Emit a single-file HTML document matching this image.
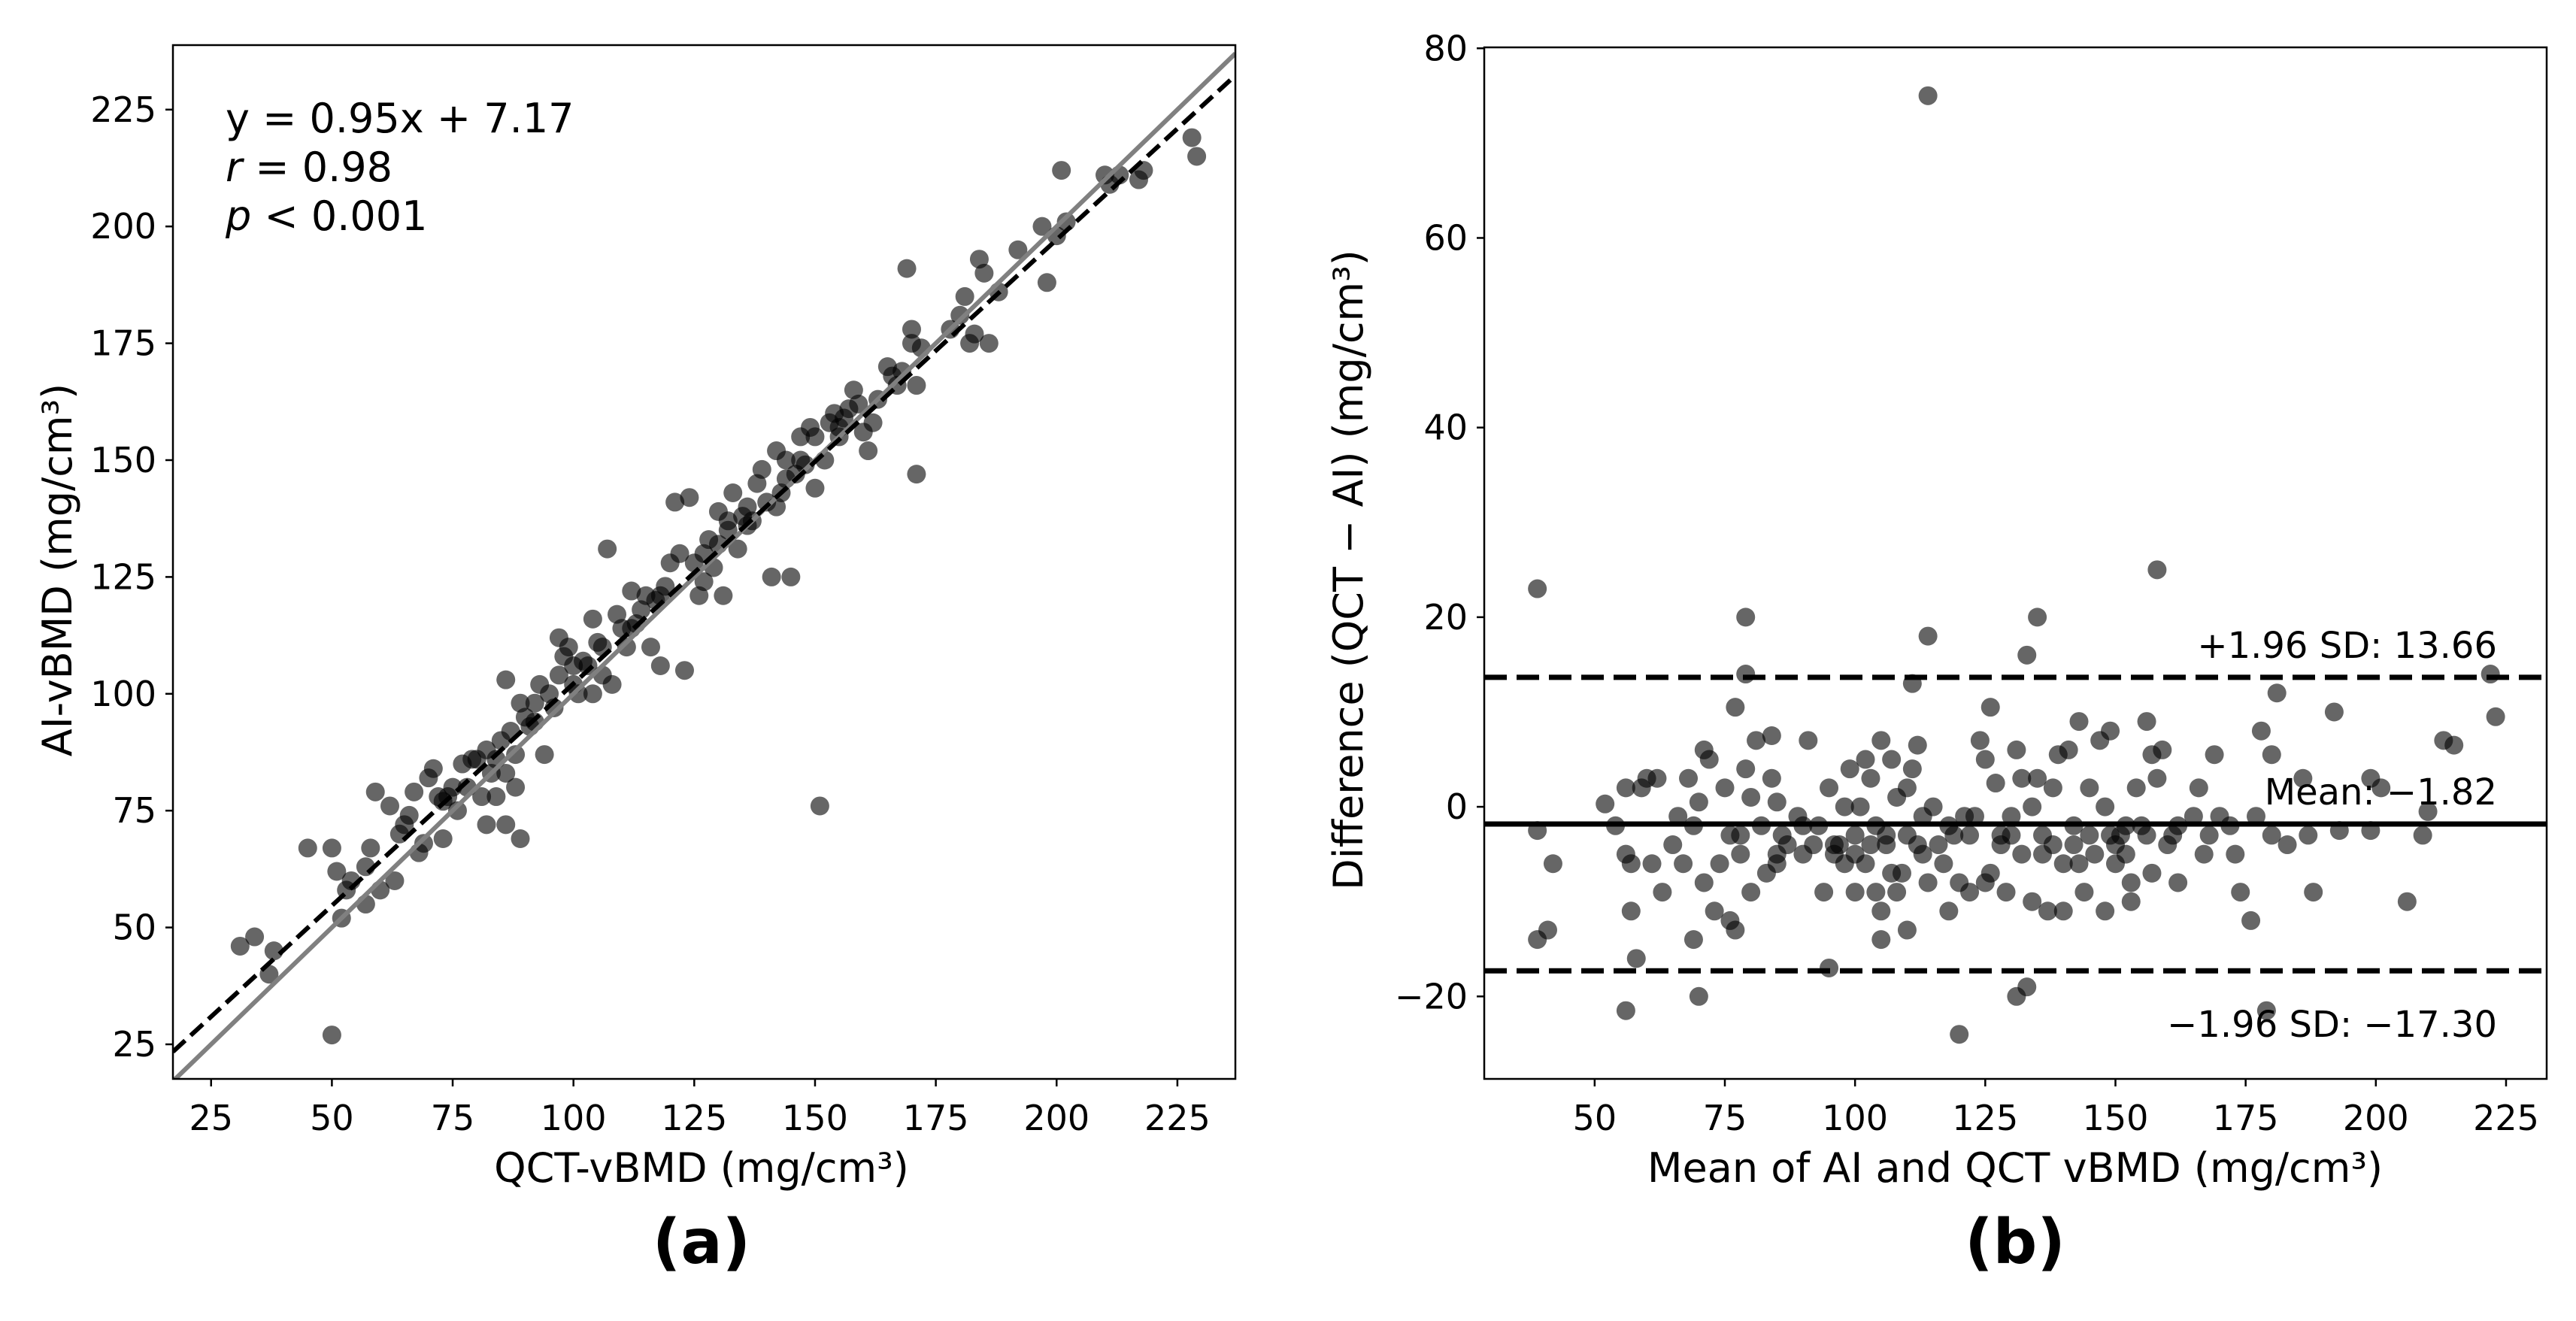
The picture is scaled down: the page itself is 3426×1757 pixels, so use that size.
<!DOCTYPE html>
<html><head><meta charset="utf-8">
<style>
html,body{margin:0;padding:0;background:#fff;}
svg{display:block;font-family:"DejaVu Sans","Liberation Sans",sans-serif;}
</style></head>
<body>
<svg id="fig" width="3426" height="1757" viewBox="0 0 3426 1757" xmlns="http://www.w3.org/2000/svg"></svg>
<script>
// Panel (a) data: QCT-vBMD vs AI-vBMD
const qctValues=[31,34,37,38,45,50,50,51,52,53,54,57,57,58,59,60,62,63,64,65,66,67,68,69,70,71,72,73,73,74,75,76,77,79,80,81,82,82,83,84,85,86,86,86,87,88,88,89,89,90,91,92,93,94,95,96,97,97,98,99,100,101,102,103,104,104,105,106,107,108,109,110,111,112,113,114,115,116,117,118,119,120,121,122,123,124,126,127,128,129,130,131,132,133,134,135,136,137,138,139,140,141,142,143,144,145,146,147,148,149,150,151,152,153,154,155,156,157,158,159,160,161,162,163,165,166,167,168,169,170,170,171,171,172,178,180,181,182,183,184,185,186,188,192,197,198,200,201,202,210,211,213,217,218,228,229,78,84,92,100,106,112,118,125,130,136,142,147,127,132,144,150,155];
const aiValues=[46,48,40,45,67,27,67,62,52,58,60,55,63,67,79,58,76,60,70,72,74,79,66,68,82,84,78,77,69,78,80,75,85,86,86,78,88,72,83,78,90,83,103,72,92,80,87,69,98,95,93,98,102,87,100,97,104,112,108,110,102,100,107,106,116,100,111,104,131,102,117,114,110,122,115,118,121,110,120,106,123,128,141,130,105,142,121,130,133,127,139,121,137,143,131,138,140,137,145,148,141,125,152,143,150,125,147,155,149,157,155,76,150,158,160,155,159,161,165,162,156,152,158,163,170,168,166,169,191,178,175,166,147,174,178,181,185,175,177,193,190,175,186,195,200,188,198,212,201,211,209,211,210,212,219,215,80,86,94,106,110,114,121,128,132,136,140,150,124,135,146,144,157];
const xTicksA=[25,50,75,100,125,150,175,200,225];
const yTicksA=[25,50,75,100,125,150,175,200,225];
const fitSlope=0.95, fitIntercept=7.17;
// Panel (b) data: Bland-Altman
const meanValues=[39,39,39,41,42,52,54,56,56,56,57,57,58,59,60,61,62,63,65,66,67,68,69,69,70,70,71,71,72,73,74,75,76,76,77,77,78,79,79,79,80,80,81,82,83,84,84,85,85,86,87,89,90,91,92,94,95,95,96,97,98,98,99,100,100,101,102,102,103,104,104,105,105,105,106,107,107,108,108,109,110,110,111,111,112,112,113,114,114,114,115,116,117,118,119,120,120,121,122,123,124,125,125,126,126,127,128,129,130,131,131,132,132,133,133,134,134,135,135,136,137,138,138,139,140,140,141,142,143,143,144,145,146,147,148,148,149,149,150,151,152,153,153,154,155,156,156,157,157,158,158,159,161,162,162,165,166,167,168,169,170,172,173,174,176,177,178,179,180,180,181,183,186,187,188,192,193,199,199,201,206,209,210,213,215,222,223,90,96,103,110,118,128,136,145,152,160,78,85,93,100,106,113,122,130,142,150];
const diffValues=[23,-2.5,-14,-13,-6,0.3,-2,2,-5,-21.5,-11,-6,-16,2,3,-6,3,-9,-4,-1,-6,3,-2,-14,0.5,-20,-8,6,5,-11,-6,2,-3,-12,10.5,-13,-5,20,4,14,-9,1,7,-2,-7,7.5,3,-5,0.5,-3,-4,-1,-5,7,-4,-9,2,-17,-4,-4,-6,0,4,-9,-3,0,5,-6,3,-2,-9,-11,-14,7,-3,-7,5,1,-9,-7,2,-13,4,13,-4,6.5,-1,75,18,-8,0,-4,-6,-11,-3,-8,-24,-1,-9,-1,7,-8,5,10.5,-7,2.5,-3,-9,-1,-20,6,-5,3,16,-19,0,-10,20,3,-3,-11,2,-4,5.5,-6,-11,6,-2,9,-6,-9,2,-5,7,-11,0,8,-3,-6,-3,-5,-8,-10,2,-2,9,-3,-7,5.5,25,3,6,-3,-8,-2,-1,2,-5,-3,5.5,-1,-2,-5,-9,-12,-1,8,-21.5,-3,5.5,12,-4,3,-3,-9,10,-2.5,3,-2.5,2,-10,-3,-0.5,7,6.5,14,9.5,-2,-5,-4,-3,-2,-4,-5,-3,-2,-4,-3,-6,-2,-5,-4,-5,-3,-3,-4,-4];
const xTicksB=[50,75,100,125,150,175,200,225];
const yTicksB=[-20,0,20,40,60,80];
const meanDiff=-1.82, upperLoA=13.66, lowerLoA=-17.30;

const NS="http://www.w3.org/2000/svg";
const svg=document.getElementById('fig');
function mk(tag,attrs,parent){const e=document.createElementNS(NS,tag);for(const k in attrs)e.setAttribute(k,attrs[k]);(parent||svg).appendChild(e);return e;}
function txt(s,attrs,parent){const e=mk('text',attrs,parent);e.textContent=s;return e;}

// ---------- Panel A ----------
const A={l:230,r:1643,t:60,b:1435,x0:17.1,x1:237.0,y0:17.6,y1:238.8};
const ax=v=>A.l+(v-A.x0)/(A.x1-A.x0)*(A.r-A.l);
const ay=v=>A.b-(v-A.y0)/(A.y1-A.y0)*(A.b-A.t);
const gA=mk('g',{});


const clipA=mk('clipPath',{id:'clipA'},gA);mk('rect',{x:A.l,y:A.t,width:A.r-A.l,height:A.b-A.t},clipA);
const ptsA=mk('g',{'clip-path':'url(#clipA)'},gA);
for(let i=0;i<qctValues.length;i++){
  const c=mk('circle',{cx:ax(qctValues[i]),cy:ay(aiValues[i]),r:12.5,fill:'rgba(0,0,0,0.6)'},ptsA);
  
  
}
const idl=mk('line',{x1:ax(A.x0),y1:ay(A.x0),x2:ax(A.x1),y2:ay(A.x1),stroke:'#808080','stroke-width':6},ptsA);


const fl=mk('line',{x1:ax(A.x0),y1:ay(fitSlope*A.x0+fitIntercept),x2:ax(A.x1),y2:ay(fitSlope*A.x1+fitIntercept),stroke:'#000','stroke-width':6,'stroke-dasharray':'22,10'},ptsA);


mk('rect',{x:A.l,y:A.t,width:A.r-A.l,height:A.b-A.t,fill:'none',stroke:'#000','stroke-width':2.5},gA);
xTicksA.forEach(v=>{mk('line',{x1:ax(v),x2:ax(v),y1:A.b,y2:A.b+10,stroke:'#000','stroke-width':2.5},gA);
  const t=txt(v,{x:ax(v),y:A.b+68,'font-size':46,'text-anchor':'middle'},gA);
  });
yTicksA.forEach(v=>{mk('line',{x1:A.l-10,x2:A.l,y1:ay(v),y2:ay(v),stroke:'#000','stroke-width':2.5},gA);
  const t=txt(v,{x:A.l-22,y:ay(v)+16,'font-size':46,'text-anchor':'end'},gA);
  });
const xa=txt('QCT-vBMD (mg/cm³)',{x:933,y:1572,'font-size':54,'text-anchor':'middle'},gA);

const ya=txt('AI-vBMD (mg/cm³)',{x:0,y:0,'font-size':54,'text-anchor':'middle',transform:'translate(95,758) rotate(-90)'},gA);

const s1=txt('y = 0.95x + 7.17',{x:300,y:176,'font-size':54},gA);

const s2=mk('text',{x:300,y:241,'font-size':54},gA);s2.innerHTML='<tspan font-style="italic">r</tspan> = 0.98';

const s3=mk('text',{x:300,y:306,'font-size':54},gA);s3.innerHTML='<tspan font-style="italic">p</tspan> &lt; 0.001';

const la=txt('(a)',{x:933,y:1680,'font-size':82,'font-weight':'bold','text-anchor':'middle'},gA);


// ---------- Panel B ----------
const B={l:1974,r:3387,t:63,b:1435,x0:28.8,x1:232.8,y0:-28.7,y1:80.1};
const bx=v=>B.l+(v-B.x0)/(B.x1-B.x0)*(B.r-B.l);
const by=v=>B.b-(v-B.y0)/(B.y1-B.y0)*(B.b-B.t);
const gB=mk('g',{});


const clipB=mk('clipPath',{id:'clipB'},gB);mk('rect',{x:B.l,y:B.t,width:B.r-B.l,height:B.b-B.t},clipB);
const ptsB=mk('g',{'clip-path':'url(#clipB)'},gB);
for(let i=0;i<meanValues.length;i++){
  const c=mk('circle',{cx:bx(meanValues[i]),cy:by(diffValues[i]),r:12.5,fill:'rgba(0,0,0,0.6)'},ptsB);
  
  
}
const ml=mk('line',{x1:B.l,x2:B.r,y1:by(meanDiff),y2:by(meanDiff),stroke:'#000','stroke-width':7},ptsB);

const ul=mk('line',{x1:B.l,x2:B.r,y1:by(upperLoA),y2:by(upperLoA),stroke:'#000','stroke-width':7,'stroke-dasharray':'30,13'},ptsB);

const ll=mk('line',{x1:B.l,x2:B.r,y1:by(lowerLoA),y2:by(lowerLoA),stroke:'#000','stroke-width':7,'stroke-dasharray':'30,13'},ptsB);

mk('rect',{x:B.l,y:B.t,width:B.r-B.l,height:B.b-B.t,fill:'none',stroke:'#000','stroke-width':2.5},gB);
xTicksB.forEach(v=>{mk('line',{x1:bx(v),x2:bx(v),y1:B.b,y2:B.b+10,stroke:'#000','stroke-width':2.5},gB);
  const t=txt(v,{x:bx(v),y:B.b+68,'font-size':46,'text-anchor':'middle'},gB);
  });
yTicksB.forEach(v=>{mk('line',{x1:B.l-10,x2:B.l,y1:by(v),y2:by(v),stroke:'#000','stroke-width':2.5},gB);
  const t=txt(v<0?'−'+Math.abs(v):v,{x:B.l-22,y:by(v)+16,'font-size':46,'text-anchor':'end'},gB);
  });
const xb=txt('Mean of AI and QCT vBMD (mg/cm³)',{x:2680,y:1572,'font-size':54,'text-anchor':'middle'},gB);

const yb=txt('Difference (QCT − AI) (mg/cm³)',{x:0,y:0,'font-size':54,'text-anchor':'middle',transform:'translate(1812,758) rotate(-90)'},gB);

const t1=txt('+1.96 SD: '+upperLoA.toFixed(2),{x:3321,y:by(upperLoA)-26,'font-size':48,'text-anchor':'end'},gB);

const t2=txt('Mean: −'+Math.abs(meanDiff).toFixed(2),{x:3321,y:by(meanDiff)-26,'font-size':48,'text-anchor':'end'},gB);

const t3=txt('−1.96 SD: −'+Math.abs(lowerLoA).toFixed(2),{x:3321,y:by(lowerLoA)+88,'font-size':48,'text-anchor':'end'},gB);

const lb=txt('(b)',{x:2680,y:1680,'font-size':82,'font-weight':'bold','text-anchor':'middle'},gB);

</script>
</body></html>
